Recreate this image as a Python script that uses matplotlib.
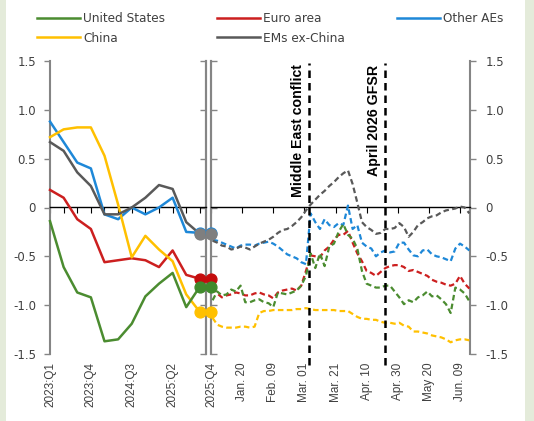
import matplotlib.pyplot as plt
from matplotlib.patches import Rectangle
import pandas as pd

plt.rcParams['font.family'] = ['DejaVu Sans']

# ---- left panel: quarterly data ----
quarters = ['2023:Q1', '2023:Q2', '2023:Q3', '2023:Q4', '2024:Q1', '2024:Q2',
            '2024:Q3', '2024:Q4', '2025:Q1', '2025:Q2', '2025:Q3', '2025:Q4']
q_us = [-0.14, -0.61, -0.87, -0.92, -1.37, -1.35, -1.19, -0.91, -0.78, -0.67, -1.02, -0.81]
q_ea = [0.18, 0.10, -0.12, -0.22, -0.56, -0.54, -0.52, -0.54, -0.61, -0.44, -0.69, -0.73]
q_oae = [0.88, 0.67, 0.46, 0.40, -0.07, -0.12, 0.00, -0.07, 0.00, 0.10, -0.25, -0.26]
q_cn = [0.72, 0.80, 0.82, 0.82, 0.53, 0.03, -0.51, -0.29, -0.43, -0.55, -0.89, -1.07]
q_em = [0.67, 0.58, 0.36, 0.22, -0.07, -0.07, 0.00, 0.10, 0.23, 0.19, -0.15, -0.27]

# ---- right panel: daily data (every third day from Jan 1 2026) ----
q4_date = pd.Timestamp('2025-12-31')
days = pd.date_range('2026-01-01', periods=56, freq='3D')
d_us = [-0.95, -0.86, -0.90, -0.89, -0.84, -0.86, -0.80, -0.97, -0.97, -0.95,
        -0.94, -0.97, -0.98, -1.02, -0.87, -0.88, -0.89, -0.87, -0.85, -0.80,
        -0.70, -0.47, -0.62, -0.47, -0.60, -0.40, -0.37, -0.25, -0.17, -0.28,
        -0.32, -0.42, -0.65, -0.78, -0.80, -0.82, -0.82, -0.80, -0.80, -0.86,
        -0.92, -0.99, -0.95, -0.97, -0.92, -0.90, -0.86, -0.91, -0.90, -0.94,
        -0.99, -1.08, -0.82, -0.84, -0.88, -0.96]
d_ea = [-0.82, -0.88, -0.92, -0.90, -0.89, -0.87, -0.88, -0.90, -0.90, -0.88,
        -0.87, -0.89, -0.90, -0.93, -0.87, -0.85, -0.84, -0.83, -0.85, -0.80,
        -0.65, -0.49, -0.50, -0.51, -0.44, -0.40, -0.33, -0.28, -0.28, -0.24,
        -0.36, -0.47, -0.55, -0.65, -0.67, -0.70, -0.66, -0.62, -0.60, -0.59,
        -0.59, -0.61, -0.65, -0.64, -0.66, -0.68, -0.70, -0.74, -0.76, -0.77,
        -0.79, -0.80, -0.78, -0.70, -0.78, -0.83]
d_oae = [-0.33, -0.34, -0.36, -0.38, -0.40, -0.42, -0.39, -0.38, -0.38, -0.39,
         -0.37, -0.36, -0.35, -0.37, -0.40, -0.44, -0.48, -0.50, -0.52, -0.56,
         -0.58, -0.06, -0.15, -0.22, -0.12, -0.18, -0.20, -0.16, -0.18, 0.02,
         -0.22, -0.18, -0.36, -0.40, -0.42, -0.50, -0.46, -0.44, -0.46, -0.45,
         -0.36, -0.36, -0.43, -0.49, -0.50, -0.44, -0.43, -0.48, -0.50, -0.51,
         -0.53, -0.55, -0.42, -0.37, -0.40, -0.44]
d_cn = [-1.13, -1.20, -1.22, -1.23, -1.23, -1.23, -1.22, -1.22, -1.23, -1.22,
        -1.08, -1.06, -1.06, -1.05, -1.05, -1.05, -1.05, -1.05, -1.04, -1.04,
        -1.03, -1.04, -1.05, -1.05, -1.05, -1.05, -1.05, -1.06, -1.06, -1.06,
        -1.09, -1.12, -1.14, -1.14, -1.15, -1.15, -1.17, -1.18, -1.18, -1.19,
        -1.18, -1.21, -1.22, -1.27, -1.27, -1.28, -1.29, -1.31, -1.32, -1.33,
        -1.35, -1.38, -1.36, -1.35, -1.35, -1.36]
d_em = [-0.34, -0.36, -0.39, -0.40, -0.43, -0.42, -0.40, -0.41, -0.43, -0.40,
        -0.37, -0.35, -0.33, -0.30, -0.26, -0.23, -0.22, -0.19, -0.15, -0.10,
        -0.03, 0.03, 0.08, 0.13, 0.17, 0.22, 0.26, 0.31, 0.35, 0.38,
        0.24, 0.05, -0.15, -0.20, -0.23, -0.27, -0.26, -0.22, -0.22, -0.21,
        -0.16, -0.20, -0.30, -0.25, -0.18, -0.15, -0.11, -0.09, -0.08, -0.05,
        -0.03, -0.02, -0.01, 0.01, 0.00, -0.06]

tick_dates = pd.to_datetime(['2025-12-31', '2026-01-20', '2026-02-09', '2026-03-01', '2026-03-21',
                             '2026-04-10', '2026-04-30', '2026-05-20', '2026-06-09'])
tick_labels = ['2025:Q4', 'Jan. 20', 'Feb. 09', 'Mar. 01', 'Mar. 21', 'Apr. 10', 'Apr. 30', 'May 20', 'Jun. 09']

events = ['Middle East conflict', 'April 2026 GFSR']
event_dates = pd.to_datetime(['2026-03-04', '2026-04-22'])

yticks = [1.5, 1.0, 0.5, 0, -0.5, -1.0, -1.5]
ylabels = ['1.5', '1.0', '0.5', '0', '-0.5', '-1.0', '-1.5']

# name, quarterly, daily, line colour, dot colour, zorder
series = [
    ('Other AEs', q_oae, d_oae, '#1e88d8', '#1e88d8', 3),
    ('Euro area', q_ea, d_ea, '#cc1f1f', '#c40d0d', 4),
    ('China', q_cn, d_cn, '#ffc000', '#ffc000', 5),
    ('United States', q_us, d_us, '#4b8c30', '#3f8a2c', 6),
    ('EMs ex-China', q_em, d_em, '#595959', '#7f7f7f', 7),
]

grey = '#858585'
txt = '#404040'

fig = plt.figure(figsize=(5.34, 4.21), dpi=100)
fig.patch.set_facecolor('#e4ebda')
fig.add_artist(Rectangle((6/534, 0), 519/534, 1, transform=fig.transFigure,
                         facecolor='white', edgecolor='none', zorder=-5))

ax_q = fig.add_axes([50/534, 1-354/421, 156/534, 293/421])
ax_d = fig.add_axes([211/534, 1-354/421, 259/534, 293/421])

for ax in (ax_q, ax_d):
    ax.set_ylim(-1.5, 1.5)
    ax.set_yticks(yticks, labels=ylabels)
    ax.spines['bottom'].set_visible(False)
    ax.spines['top'].set_position(('data', 0))
    ax.spines['top'].set_color('black')
    ax.spines['top'].set_linewidth(1)
    for s in ('left', 'right'):
        ax.spines[s].set_color(grey)
        ax.spines[s].set_linewidth(1.5)
    ax.tick_params(axis='x', bottom=False, top=True, labelbottom=True, labeltop=False,
                   direction='in', length=4, width=0.8, color='black',
                   labelrotation=90, labelsize=8.5, labelcolor=txt, pad=6)

# left panel y ticks (labels on the left, inward ticks on the divider)
ax_q.tick_params(axis='y', left=True, right=False, direction='out', length=4, width=1,
                 color=grey, labelsize=8.5, labelcolor=txt, pad=6)
sec_q = ax_q.secondary_yaxis('right')
sec_q.set_yticks(yticks)
sec_q.tick_params(direction='in', length=4, width=1, color=grey, labelright=False)
sec_q.spines['right'].set_color(grey)
sec_q.spines['right'].set_linewidth(1.5)

# right panel y ticks (labels on the right)
ax_d.tick_params(axis='y', left=False, right=True, labelleft=False, labelright=True,
                 direction='out', length=4, width=1, color=grey, labelsize=8.5,
                 labelcolor=txt, pad=7)
sec_d = ax_d.secondary_yaxis('left')
sec_d.set_yticks(yticks)
sec_d.tick_params(direction='in', length=4, width=1, color=grey, labelleft=False)
sec_d.spines['left'].set_color(grey)
sec_d.spines['left'].set_linewidth(1.5)

x_q = list(range(len(quarters)))
ax_q.set_xlim(0, 11.45)
ax_q.set_xticks(x_q, labels=[q if i % 3 == 0 and i < 11 else '' for i, q in enumerate(quarters)])

ax_d.set_xlim(q4_date, pd.Timestamp('2026-06-15 10:00'))
ax_d.set_xticks(tick_dates, labels=tick_labels)

for ax in (ax_q, ax_d):
    for lbl in ax.get_xticklabels():
        lbl.set_fontfamily('Liberation Sans')

handles = {}
for name, qv, dv, col, dot, z in series:
    ln, = ax_q.plot(x_q, qv, color=col, lw=1.8, zorder=z, clip_on=False)
    handles[name] = ln
    ax_q.plot(x_q[-1], qv[-1], 'o', ms=7.8, color=dot, zorder=z + 10, clip_on=False)
    ax_d.plot(days, dv, color=col, lw=1.6, ls=(0, (2.5, 1.5)), zorder=z)
    ax_d.plot(q4_date, qv[-1], 'o', ms=7.8, color=dot, zorder=z + 10, clip_on=False)

for d, label in zip(event_dates, events):
    ax_d.axvline(d, ymin=-0.0375, ymax=0.993, color='black', lw=1.8,
                 ls=(0, (3, 2)), zorder=20, clip_on=False)
    ax_d.annotate(label, xy=(d, 1.465), xytext=(-3, 0), textcoords='offset points',
                  rotation=90, ha='right', va='top', fontsize=10.2, fontweight='bold',
                  color='black', family='Liberation Sans')

# legend: three columns placed separately
legend_cols = [(['United States', 'China'], 37), (['Euro area', 'EMs ex-China'], 217),
               (['Other AEs'], 397)]
for names, x0 in legend_cols:
    fig.legend([handles[n] for n in names], names, loc='upper left',
               bbox_to_anchor=(x0/534, 1-12/421), ncol=1, frameon=False,
               fontsize=8.7, labelcolor=txt, handlelength=3.55, handletextpad=0.25,
               labelspacing=0.55, borderpad=0, borderaxespad=0)

fig.savefig('out.png', dpi=100)
